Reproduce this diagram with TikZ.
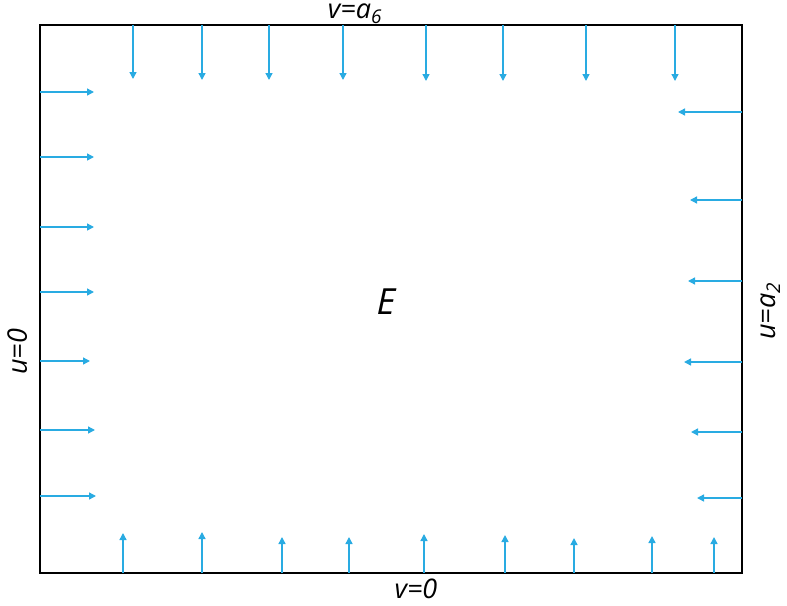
\documentclass[tikz,border=0pt]{standalone}
\usepackage{fontspec}
\setmainfont{Open Sans}
\usetikzlibrary{arrows.meta}
\definecolor{arr}{HTML}{29ABE2}
\tikzset{
  fl/.style={draw=arr, line width=1.4pt, -{Triangle[length=7pt,width=7pt]}},
  lbl/.style={font=\fontsize{27}{32}\selectfont\itshape, inner sep=0pt, anchor=base}
}
\begin{document}
\begin{tikzpicture}[x=1pt,y=-1pt]
\useasboundingbox (0,0) rectangle (787,605);
\coordinate (TL) at (40,25);
\coordinate (BR) at (742,573);
\draw[line width=1.8pt] (TL) rectangle (BR);
% top arrows
\foreach \x/\e in {133/79,202/80,269/80,343/80,426/81,503/81,586/81,675/81}{
  \coordinate (ts\x) at (\x,25); \coordinate (te\x) at (\x,\e);
  \draw[fl] (ts\x) -- (te\x);}
% left arrows
\foreach \y/\e in {92/94,157/94,227/94,292/94,361/90,430/95,496/96}{
  \coordinate (ls\y) at (40,\y); \coordinate (le\y) at (\e,\y);
  \draw[fl] (ls\y) -- (le\y);}
% right arrows
\foreach \y/\e in {112/678,200/690,281/688,362/684,432/691,498/697}{
  \coordinate (rs\y) at (742,\y); \coordinate (re\y) at (\e,\y);
  \draw[fl] (rs\y) -- (re\y);}
% bottom arrows
\foreach \x/\e in {123/533,202/532,282/537,349/537,424/534,505/535,574/538,652/536,714/537}{
  \coordinate (bs\x) at (\x,573); \coordinate (be\x) at (\x,\e);
  \draw[fl] (bs\x) -- (be\x);}
\node[lbl] (top) at (355,18) {v=a\textsubscript{6}};
\node[lbl] (bot) at (416,598) {v=0};
\node[lbl, rotate=90] (left) at (27,352) {u=0};
\node[lbl, rotate=90] (right) at (775,311) {u=a\textsubscript{2}};
\node[font=\fontsize{36}{40}\selectfont\itshape, inner sep=0pt] (E) at (386,302) {E};
\end{tikzpicture}
\end{document}
